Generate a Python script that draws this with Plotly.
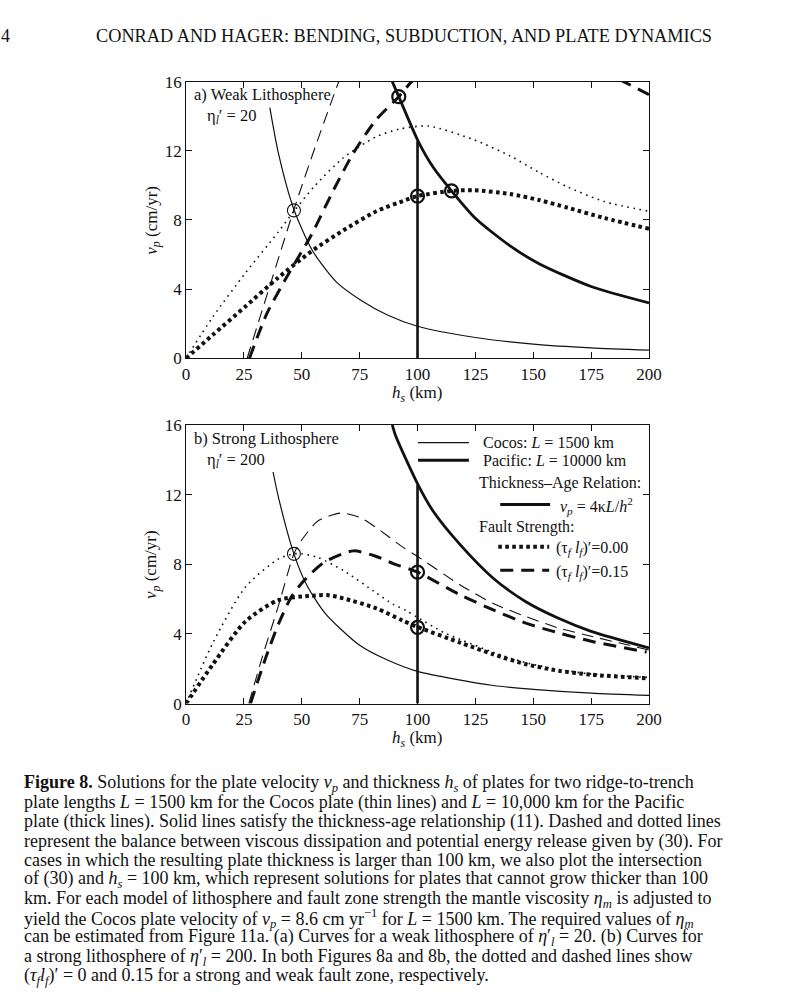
import plotly.graph_objects as go

# ---------------- data ----------------
H_TICKS = [0, 25, 50, 75, 100, 125, 150, 175, 200]
V_TICKS = [0, 4, 8, 12, 16]

# Panel a) weak lithosphere
A_COCOS_AGE_H = [36.2, 40, 46.6, 54.7, 65, 75, 87, 100, 125, 150, 175, 200]
A_COCOS_AGE_V = [14.5, 11.8, 8.6, 6.2, 4.4, 3.4, 2.5, 1.85, 1.2, 0.82, 0.6, 0.47]
A_PAC_AGE_H = [89.1, 91.9, 100.3, 107, 114.7, 125, 140, 152.5, 175, 200]
A_PAC_AGE_V = [16, 15.13, 12.55, 11.0, 9.68, 8.1, 6.5, 5.47, 4.15, 3.2]
A_COCOS_DOT_H = [0, 11.6, 25.7, 39.8, 46.6, 55.4, 68, 82, 92, 104.6, 124.3, 140, 152.5, 165, 180.7, 200]
A_COCOS_DOT_V = [0, 2.4, 4.94, 7.3, 8.5, 9.94, 11.6, 12.8, 13.25, 13.43, 12.64, 11.7, 10.75, 9.9, 9.06, 8.5]
A_PAC_DOT_H = [0, 11.6, 25.7, 39.8, 54, 68, 82.2, 94.9, 100, 114.7, 124.3, 140, 152.5, 165, 180.7, 200]
A_PAC_DOT_V = [0, 1.36, 3.0, 4.66, 6.17, 7.4, 8.5, 9.15, 9.38, 9.68, 9.72, 9.5, 9.15, 8.7, 8.11, 7.49]
A_COCOS_DASH_H = [26.4, 36, 46.6, 56, 66.5]
A_COCOS_DASH_V = [0, 4.1, 8.6, 12.3, 16.2]
A_PAC_DASH_H = [27.4, 34.9, 44.8, 54, 63.8, 72.2, 82, 91.9, 97.5, 110, 130, 150, 170, 189, 200]
A_PAC_DASH_V = [0, 2.58, 5.0, 7.1, 9.75, 11.85, 13.77, 15.13, 16, 17.2, 18.0, 18.0, 17.3, 16, 15.25]
A_CIRC_THIN_H = [46.6]
A_CIRC_THIN_V = [8.55]
A_CIRC_THICK_H = [91.9, 100, 114.7]
A_CIRC_THICK_V = [15.13, 9.38, 9.68]

# Panel b) strong lithosphere
B_COCOS_AGE_H = [37.6, 40, 46.6, 51.8, 60, 75, 87, 100, 132.7, 150, 175, 200]
B_COCOS_AGE_V = [13.3, 11.8, 8.6, 6.9, 5.2, 3.35, 2.5, 1.85, 1.04, 0.82, 0.6, 0.47]
B_PAC_AGE_H = [89.1, 90.5, 100.3, 107, 118.6, 132.7, 146.8, 160.9, 175, 200]
B_PAC_AGE_V = [16, 15.4, 12.55, 11.0, 9.1, 7.2, 5.85, 4.9, 4.15, 3.2]
B_COCOS_DOT_H = [0, 11.6, 25.7, 39.8, 46.6, 50, 56.8, 68, 82.2, 89.5, 95, 100, 111.6, 120, 132.7, 146.8, 160.9, 175, 200]
B_COCOS_DOT_V = [0, 3.49, 6.7, 8.3, 8.6, 8.6, 8.4, 7.64, 6.35, 5.7, 5.35, 4.95, 4.06, 3.6, 2.95, 2.35, 1.95, 1.7, 1.5]
B_PAC_DOT_H = [0, 11.6, 25.7, 39.8, 54, 61, 68, 82.2, 93.5, 100, 118.6, 132.7, 146.8, 160.9, 175, 200]
B_PAC_DOT_V = [0, 2.26, 4.72, 5.94, 6.19, 6.23, 6.04, 5.47, 4.77, 4.4, 3.49, 2.83, 2.26, 1.89, 1.66, 1.45]
B_COCOS_DASH_H = [27.1, 33, 39.8, 46.6, 49.7, 56.8, 66.7, 75, 82.2, 93.5, 100, 118.6, 132.7, 146.8, 160.9, 175, 200]
B_COCOS_DASH_V = [0, 2.7, 5.57, 8.6, 9.34, 10.47, 10.94, 10.7, 10.1, 9.0, 8.45, 6.8, 5.75, 5.0, 4.34, 3.87, 3.08]
B_PAC_DASH_H = [27.8, 34.2, 39.8, 45.5, 51.1, 59.6, 72.3, 82.2, 89.5, 100, 118.6, 132.7, 146.8, 160.9, 175, 199]
B_PAC_DASH_V = [0, 2.55, 4.53, 6.13, 7.08, 8.11, 8.77, 8.45, 8.04, 7.55, 6.23, 5.38, 4.62, 4.06, 3.58, 2.96]
B_CIRC_THIN_H = [46.6]
B_CIRC_THIN_V = [8.6]
B_CIRC_THICK_H = [100, 100]
B_CIRC_THICK_V = [7.55, 4.38]

LIMIT_H = [100, 100]
LIMIT_V = [0, 12.55]

HEADER = "CONRAD AND HAGER: BENDING, SUBDUCTION, AND PLATE DYNAMICS"
CAPTION_LINES = [
    "<b>Figure 8.</b> Solutions for the plate velocity <i>v<sub>p</sub></i> and thickness <i>h<sub>s</sub></i> of plates for two ridge-to-trench",
    "plate lengths <i>L</i> = 1500 km for the Cocos plate (thin lines) and <i>L</i> = 10,000 km for the Pacific",
    "plate (thick lines). Solid lines satisfy the thickness-age relationship (11). Dashed and dotted lines",
    "represent the balance between viscous dissipation and potential energy release given by (30). For",
    "cases in which the resulting plate thickness is larger than 100 km, we also plot the intersection",
    "of (30) and <i>h<sub>s</sub></i> = 100 km, which represent solutions for plates that cannot grow thicker than 100",
    "km. For each model of lithosphere and fault zone strength the mantle viscosity <i>η<sub>m</sub></i> is adjusted to",
    "yield the Cocos plate velocity of <i>v<sub>p</sub></i> = 8.6 cm yr<sup>−1</sup> for <i>L</i> = 1500 km. The required values of <i>η<sub>m</sub></i>",
    "can be estimated from Figure 11a. (a) Curves for a weak lithosphere of <i>η</i>′<sub><i>l</i></sub> = 20. (b) Curves for",
    "a strong lithosphere of <i>η</i>′<sub><i>l</i></sub> = 200. In both Figures 8a and 8b, the dotted and dashed lines show",
    "(<i>τ<sub>f</sub>l<sub>f</sub></i>)′ = 0 and 0.15 for a strong and weak fault zone, respectively.",
]

# ---------------- figure ----------------
W, H = 800, 1004
FONT = "Liberation Serif"
INK = "#111111"


def px(x):
    return x / W


def py(y):
    return 1 - y / H


fig = go.Figure()

THIN_SOLID = dict(color=INK, width=1.2)
THICK_SOLID = dict(color=INK, width=2.8)
THIN_DOT = dict(color=INK, width=1.6, dash="1.6px,4.6px")
THICK_DOT = dict(color=INK, width=4, dash="3.6px,3.4px")
THIN_DASH = dict(color=INK, width=1.1, dash="12px,7px")
THICK_DASH = dict(color=INK, width=3, dash="13px,8px")


def add_line(h, v, line, xa, ya):
    fig.add_trace(go.Scatter(x=h, y=v, mode="lines", line=dict(shape="spline", smoothing=0.7, **line),
                             xaxis=xa, yaxis=ya, showlegend=False, hoverinfo="skip"))


def add_circles(h, v, width, xa, ya):
    fig.add_trace(go.Scatter(x=h, y=v, mode="markers",
                             marker=dict(symbol="circle-open", size=13, color=INK, line=dict(color=INK, width=width)),
                             xaxis=xa, yaxis=ya, showlegend=False, hoverinfo="skip"))


# panel a
add_line(A_COCOS_AGE_H, A_COCOS_AGE_V, THIN_SOLID, "x", "y")
add_line(A_PAC_AGE_H, A_PAC_AGE_V, THICK_SOLID, "x", "y")
fig.add_trace(go.Scatter(x=LIMIT_H, y=LIMIT_V, mode="lines", line=dict(color=INK, width=2.6),
                         xaxis="x", yaxis="y", showlegend=False, hoverinfo="skip"))
add_line(A_COCOS_DOT_H, A_COCOS_DOT_V, THIN_DOT, "x", "y")
add_line(A_PAC_DOT_H, A_PAC_DOT_V, THICK_DOT, "x", "y")
add_line(A_COCOS_DASH_H, A_COCOS_DASH_V, THIN_DASH, "x", "y")
add_line(A_PAC_DASH_H, A_PAC_DASH_V, THICK_DASH, "x", "y")
add_circles(A_CIRC_THIN_H, A_CIRC_THIN_V, 1.1, "x", "y")
add_circles(A_CIRC_THICK_H, A_CIRC_THICK_V, 2.2, "x", "y")

# panel b
add_line(B_COCOS_AGE_H, B_COCOS_AGE_V, THIN_SOLID, "x2", "y2")
add_line(B_PAC_AGE_H, B_PAC_AGE_V, THICK_SOLID, "x2", "y2")
fig.add_trace(go.Scatter(x=LIMIT_H, y=LIMIT_V, mode="lines", line=dict(color=INK, width=2.6),
                         xaxis="x2", yaxis="y2", showlegend=False, hoverinfo="skip"))
add_line(B_COCOS_DOT_H, B_COCOS_DOT_V, THIN_DOT, "x2", "y2")
add_line(B_PAC_DOT_H, B_PAC_DOT_V, THICK_DOT, "x2", "y2")
add_line(B_COCOS_DASH_H, B_COCOS_DASH_V, THIN_DASH, "x2", "y2")
add_line(B_PAC_DASH_H, B_PAC_DASH_V, THICK_DASH, "x2", "y2")
add_circles(B_CIRC_THIN_H, B_CIRC_THIN_V, 1.1, "x2", "y2")
add_circles(B_CIRC_THICK_H, B_CIRC_THICK_V, 2.2, "x2", "y2")

X0, X1 = 186, 659
A_TOP, A_BOT = 74, 356
B_TOP, B_BOT = 424, 708

axis_common = dict(showline=True, linecolor=INK, linewidth=1, mirror="ticks", ticks="inside", ticklen=6,
                   tickcolor=INK, tickwidth=1, showgrid=False, zeroline=False,
                   tickfont=dict(family=FONT, size=17, color=INK))

fig.update_layout(
    width=W, height=H, margin=dict(l=0, r=0, t=0, b=0),
    paper_bgcolor="white", plot_bgcolor="white", showlegend=False,
    font=dict(family=FONT, color=INK),
    xaxis=dict(domain=[px(X0), px(X1)], range=[0, 200], tickvals=H_TICKS, anchor="y", **axis_common),
    yaxis=dict(domain=[py(A_BOT), py(A_TOP)], range=[0, 16], tickvals=V_TICKS, anchor="x", **axis_common),
    xaxis2=dict(domain=[px(X0), px(X1)], range=[0, 200], tickvals=H_TICKS, anchor="y2", **axis_common),
    yaxis2=dict(domain=[py(B_BOT), py(B_TOP)], range=[0, 16], tickvals=V_TICKS, anchor="x2", **axis_common),
)

ann = []


def text(x, y, s, size=16, xanchor="left", yanchor="middle", angle=0):
    ann.append(dict(x=px(x), y=py(y), xref="paper", yref="paper", text=s, showarrow=False,
                    xanchor=xanchor, yanchor=yanchor, textangle=angle,
                    font=dict(family=FONT, size=size, color=INK)))


# header
text(92, 28, HEADER, size=18.3)
text(-5, 28, "4", size=18)

# panel labels
text(192, 87, "a) Weak Lithosphere", size=16.5)
text(205, 109, "η<sub><i>l</i></sub>′ = 20", size=16.5)
text(192, 438, "b) Strong Lithosphere", size=16.5)
text(205, 460, "η<sub><i>l</i></sub>′ = 200", size=16.5)

# axis titles
for ycen, yb in [(215, 392), (566, 744)]:
    text(152, ycen, "<i>v</i><sub><i>p</i></sub> (cm/yr)", size=17, xanchor="center", angle=-90)
    text(422, yb, "<i>h</i><sub><i>s</i></sub> (km)", size=17, xanchor="center")

# legend in panel b
shapes = []


def sample(x0, x1, y, line):
    shapes.append(dict(type="line", xref="paper", yref="paper", x0=px(x0), x1=px(x1), y0=py(y), y1=py(y),
                       line=line))


sample(423, 475, 442, dict(color=INK, width=1.2))
text(487, 442, "Cocos: <i>L</i> = 1500 km", size=16)
sample(423, 475, 460, dict(color=INK, width=3))
text(487, 460, "Pacific: <i>L</i> = 10000 km", size=16)
text(483, 483, "Thickness–Age Relation:", size=16)
sample(507, 558, 505, dict(color=INK, width=3))
text(566, 507, "<i>v</i><sub><i>p</i></sub> = 4κ<i>L</i>/<i>h</i><sup>2</sup>", size=16)
text(483, 528, "Fault Strength:", size=16)
sample(505, 557, 548, dict(color=INK, width=4, dash="3.6px,3.4px"))
text(562, 550, "(τ<sub><i>f</i></sub> <i>l</i><sub><i>f</i></sub>)′=0.00", size=16)
sample(507, 557, 572, dict(color=INK, width=3, dash="13px,8px"))
text(562, 574, "(τ<sub><i>f</i></sub> <i>l</i><sub><i>f</i></sub>)′=0.15", size=16)

# caption
for i, line in enumerate(CAPTION_LINES):
    text(18, 789 + i * 19.7, line, size=18)

fig.update_layout(annotations=ann, shapes=shapes)

PAGE_FIX = (
    "var gd=document.getElementById('{plot_id}');"
    "var d=document.documentElement;d.style.margin='0';d.style.padding='0';"
    "d.style.overflow='hidden';d.style.height='1004px';"
    "var b=document.body;b.style.margin='0';b.style.padding='0';b.style.overflow='hidden';"
    "b.style.height='1004px';b.style.position='relative';"
    "gd.style.position='absolute';gd.style.left='0px';gd.style.top='0px';"
)
fig.write_html("out.html", config={"displayModeBar": False, "staticPlot": True}, post_script=PAGE_FIX)
